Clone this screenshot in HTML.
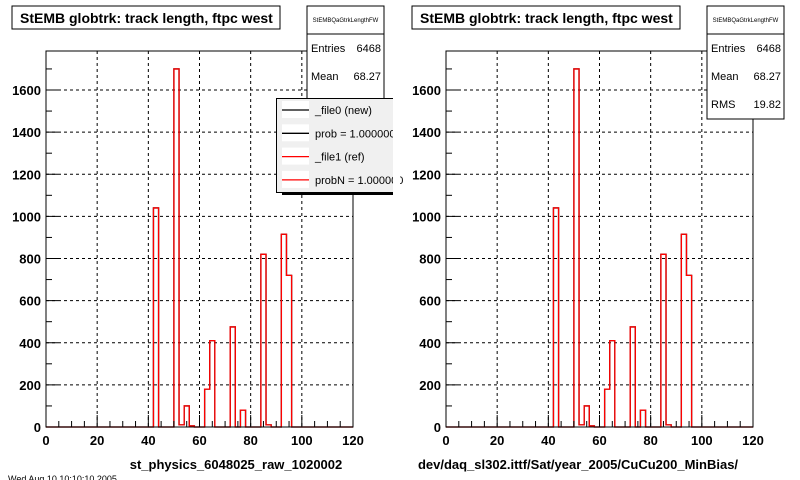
<!DOCTYPE html>
<html><head><meta charset="utf-8"><style>
html,body{margin:0;padding:0;background:#fff;}
svg{display:block;font-family:"Liberation Sans",Arial,sans-serif;}
</style></head><body>
<svg id="c" width="800" height="480" viewBox="0 0 800 480"></svg>
<script>
// data
const binEdges = [0,2,4,6,8,10,12,14,16,18,20,22,24,26,28,30,32,34,36,38,40,42,44,46,48,50,52,54,56,58,60,62,64,66,68,70,72,74,76,78,80,82,84,86,88,90,92,94,96,98,100,102,104,106,108,110,112,114,116,118,120];
const newCounts = [0,0,0,0,0,0,0,0,0,0,0,0,0,0,0,0,0,0,0,0,0,1040,0,0,0,1700,10,100,5,0,0,180,410,0,0,0,475,0,80,0,0,0,820,10,0,0,915,720,0,0,0,0,0,0,0,0,0,0,0,0];
const refCounts = [0,0,0,0,0,0,0,0,0,0,0,0,0,0,0,0,0,0,0,0,0,1040,0,0,0,1700,10,100,5,0,0,180,410,0,0,0,475,0,80,0,0,0,820,10,0,0,915,720,0,0,0,0,0,0,0,0,0,0,0,0];
const xTicks = [0,20,40,60,80,100,120];
const yTicks = [0,200,400,600,800,1000,1200,1400,1600];
const xTitles = ["st_physics_6048025_raw_1020002","dev/daq_sl302.ittf/Sat/year_2005/CuCu200_MinBias/"];

const NS="http://www.w3.org/2000/svg";
const svg=document.getElementById('c');
function mk(tag,attrs,parent){const e=document.createElementNS(NS,tag);for(const k in attrs)e.setAttribute(k,attrs[k]);(parent||svg).appendChild(e);return e;}

function panel(ox, idx){
  const g=mk('g',{});
  
  
  const L=46+ox,R=353+ox,T=51,B=427;
  const xs=v=>L+(v-0)/120*(R-L);
  const ys=v=>B-v*(337/1600);
  xTicks.forEach(t=>{ if(t>0&&t<120){const l=mk('line',{x1:xs(t),x2:xs(t),y1:T,y2:B,stroke:'#000','stroke-dasharray':'3,3','stroke-width':1},g);
    
    }});
  yTicks.forEach(t=>{ if(t>0){const l=mk('line',{x1:L,x2:R,y1:ys(t),y2:ys(t),stroke:'#000','stroke-dasharray':'3,3','stroke-width':1},g);
    
    }});
  function hist(counts,color,name){
    let d='M'+xs(binEdges[0])+','+ys(0);
    counts.forEach((c,i)=>{d+=' L'+xs(binEdges[i])+','+ys(c)+' L'+xs(binEdges[i+1])+','+ys(c);});
    d+=' L'+xs(binEdges[binEdges.length-1])+','+ys(0);
    const p=mk('path',{d:d,fill:'none',stroke:color,'stroke-width':1.3},g);
    
    
  }
  hist(newCounts,'#000','hist-file0-new');
  hist(refCounts,'#f00','hist-file1-ref');
  const fr=mk('rect',{x:L,y:T,width:R-L,height:B-T,fill:'none',stroke:'#000','stroke-width':1},g);
  
  
  for(let v=0;v<=120;v+=5){const big=v%20===0;mk('line',{x1:xs(v),x2:xs(v),y1:B,y2:B-(big?12:6),stroke:'#000'},g);}
  xTicks.forEach(t=>{const tx=mk('text',{x:xs(t),y:445,'text-anchor':'middle','font-size':13,'font-weight':'bold'},g);tx.textContent=t;
    
    });
  for(let v=0;v<=1750;v+=100){const big=v%200===0;mk('line',{x1:L,x2:L+(big?12:6),y1:ys(v),y2:ys(v),stroke:'#000'},g);}
  yTicks.forEach(t=>{const tx=mk('text',{x:L-5,y:ys(t)+5,'text-anchor':'end','font-size':13,'font-weight':'bold'},g);tx.textContent=t;
    
    });
  const xt=mk('text',{x:idx===0?236+ox:578,y:469,'text-anchor':'middle','font-size':13,'font-weight':'bold'},g);
  xt.textContent=xTitles[idx];
  
  
  const tb=mk('rect',{x:12+ox,y:6,width:268,height:23,fill:'#fff',stroke:'#000'},g);
  
  
  const tt=mk('text',{x:20+ox,y:23,'font-size':14,'font-weight':'bold'},g);
  tt.textContent='StEMB globtrk: track length, ftpc west';
  
  
  const sh=idx===0?104:113;
  const sb=mk('rect',{x:307+ox,y:6,width:77,height:sh,fill:'#fff',stroke:'#000'},g);
  
  
  mk('line',{x1:307+ox,x2:384+ox,y1:34,y2:34,stroke:'#000'},g);
  const sn=mk('text',{x:345.5+ox,y:22,'text-anchor':'middle','font-size':6},g);sn.textContent='StEMBQaGtrkLengthFW';
  const rows=[['Entries','6468',52],['Mean','68.27',80]];
  if(idx===1)rows.push(['RMS','19.82',108]);
  rows.forEach(r=>{const a=mk('text',{x:311+ox,y:r[2],'font-size':11},g);a.textContent=r[0];
    const b=mk('text',{x:381+ox,y:r[2],'font-size':11,'text-anchor':'end'},g);b.textContent=r[1];});
  if(idx===0){
    const lg=mk('g',{},g);
    
    
    mk('rect',{x:282,y:192,width:112,height:3,fill:'#000'},lg);
    mk('rect',{x:276.5,y:98.5,width:120,height:94,fill:'#f0f0f0',stroke:'#000'},lg);
    const items=[['_file0 (new)','#000'],['prob = 1.000000','#000'],['_file1 (ref)','#f00'],['probN = 1.000000','#f00']];
    items.forEach((it,i)=>{const y=110+i*23.3;
      const e=mk('g',{},lg);
      
      
      mk('rect',{x:282,y:y-9,width:27,height:17,fill:'#fff'},e);
      mk('line',{x1:282,x2:309,y1:y,y2:y,stroke:it[1],'stroke-width':1.3},e);
      const t=mk('text',{x:315,y:y+4,'font-size':11},e);t.textContent=it[0];});
  }
}
panel(0,0);
panel(400,1);
const ft=mk('text',{x:8,y:482,'font-size':9,fill:'#000'});
ft.textContent='Wed Aug 10 10:10:10 2005';


const cover=mk('rect',{x:393,y:96,width:7,height:102,fill:'#fff'});


</script>
</body></html>
